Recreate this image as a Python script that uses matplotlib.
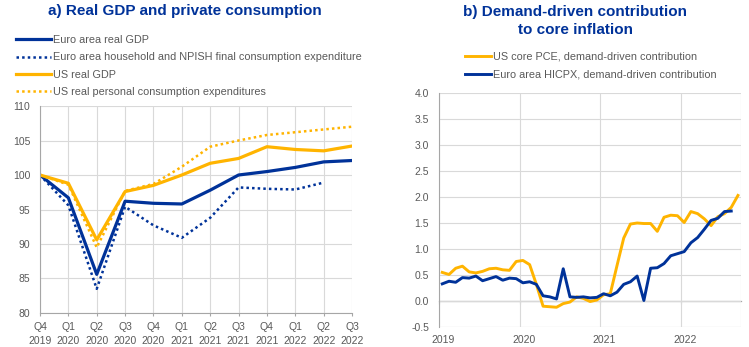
import matplotlib
matplotlib.use("Agg")
import matplotlib.pyplot as plt
import matplotlib.transforms as mtransforms
import numpy as np

plt.rcParams['font.family'] = ['Liberation Sans', 'DejaVu Sans']

BLUE = '#003299'
ORANGE = '#FFB400'
GREY_TXT = '#595959'
GRID = '#d9d9d9'
AXIS = '#a6a6a6'

# ---- panel a: quarterly indices, Q4 2019 = 100 ----
quarters = ['Q4\n2019', 'Q1\n2020', 'Q2\n2020', 'Q3\n2020', 'Q4\n2020', 'Q1\n2021',
            'Q2\n2021', 'Q3\n2021', 'Q4\n2021', 'Q1\n2022', 'Q2\n2022', 'Q3\n2022']
ea_gdp = [100.0, 96.7, 85.6, 96.2, 95.9, 95.8, 97.8, 100.0, 100.5, 101.1, 101.9, 102.1]
ea_cons = [100.0, 95.6, 83.5, 95.4, 92.7, 90.9, 93.8, 98.2, 98.0, 97.9, 98.9]
us_gdp = [100.0, 98.8, 90.6, 97.6, 98.5, 100.0, 101.7, 102.4, 104.1, 103.7, 103.5, 104.2]
us_cons = [100.0, 98.6, 89.5, 97.7, 98.7, 101.2, 104.1, 105.0, 105.8, 106.2, 106.6, 107.0]

# ---- panel b: monthly demand-driven contributions, Jan 2019 onwards ----
us_pce_demand = [0.55, 0.51, 0.63, 0.67, 0.56, 0.54, 0.57, 0.62, 0.63, 0.60, 0.59, 0.76,
                 0.78, 0.70, 0.32, -0.10, -0.11, -0.12, -0.05, -0.02, 0.08, 0.05, -0.01, 0.02,
                 0.12, 0.14, 0.68, 1.21, 1.48, 1.50, 1.49, 1.49, 1.34, 1.61, 1.65, 1.64,
                 1.51, 1.72, 1.68, 1.58, 1.45, 1.62, 1.68, 1.80, 2.03]
ea_hicpx_demand = [0.33, 0.38, 0.36, 0.45, 0.44, 0.48, 0.39, 0.43, 0.47, 0.40, 0.44, 0.43,
                   0.35, 0.37, 0.32, 0.10, 0.08, 0.04, 0.62, 0.08, 0.07, 0.08, 0.06, 0.07,
                   0.14, 0.10, 0.17, 0.32, 0.37, 0.48, 0.01, 0.63, 0.64, 0.72, 0.87, 0.91,
                   0.95, 1.12, 1.22, 1.38, 1.55, 1.59, 1.72, 1.73]
years = [2019, 2020, 2021, 2022]

fig = plt.figure(figsize=(7.49, 3.47), dpi=100)
dots = (0, (1, 1.25))

# ---------------- panel a ----------------
ax1 = fig.add_axes([0.0534, 0.098, 0.4166, 0.5965])
xq = np.arange(len(quarters))
l1, = ax1.plot(xq[:len(ea_gdp)], ea_gdp, color=BLUE, lw=2.3)
l2, = ax1.plot(xq[:len(ea_cons)], ea_cons, color=BLUE, lw=1.8, linestyle=dots)
l3, = ax1.plot(xq[:len(us_gdp)], us_gdp, color=ORANGE, lw=2.3)
l4, = ax1.plot(xq[:len(us_cons)], us_cons, color=ORANGE, lw=1.8, linestyle=dots)
ax1.set_xlim(0, len(quarters) - 1)
ax1.set_ylim(80, 110)
ax1.set_yticks(np.arange(80, 111, 5))
ax1.set_xticks(xq)
ax1.set_xticklabels(quarters)
ax1.grid(True, color=GRID, lw=0.8)
ax1.set_axisbelow(True)
for s in ['top', 'right']:
    ax1.spines[s].set_visible(False)
for s in ['left', 'bottom']:
    ax1.spines[s].set_color(AXIS)
ax1.tick_params(axis='y', length=0, labelsize=7.5, colors=GREY_TXT, pad=7)
ax1.tick_params(axis='x', length=2.5, width=0.8, color=AXIS, labelsize=7.5,
                labelcolor=GREY_TXT, pad=4)
for t in ax1.get_xticklabels():
    t.set_linespacing(1.45)

fig.text(0.247, 0.967, 'a) Real GDP and private consumption', ha='center', va='center',
         fontsize=11, fontweight='bold', color=BLUE)
fig.legend(handles=[l1, l2, l3, l4],
           labels=['Euro area real GDP',
                   'Euro area household and NPISH final consumption expenditure',
                   'US real GDP', 'US real personal consumption expenditures'],
           loc='upper left', bbox_to_anchor=(0.022, 0.899), frameon=False,
           fontsize=7.85, labelcolor=GREY_TXT, handlelength=3.15, handletextpad=0.22,
           labelspacing=0.67, borderaxespad=0, borderpad=0)

# ---------------- panel b ----------------
ax2 = fig.add_axes([0.586, 0.0576, 0.4032, 0.6744])
xm_us = [2019 + (i + 0.5) / 12 for i in range(len(us_pce_demand))]
xm_ea = [2019 + (i + 0.5) / 12 for i in range(len(ea_hicpx_demand))]
m1, = ax2.plot(xm_us, us_pce_demand, color=ORANGE, lw=2.1)
m2, = ax2.plot(xm_ea, ea_hicpx_demand, color=BLUE, lw=2.1)
x_end = 2022.745
ax2.set_xlim(2019, x_end)
ax2.set_ylim(-0.5, 4.0)
yt = np.arange(-0.5, 4.01, 0.5)
ax2.set_yticks(yt)
ax2.set_yticklabels([f'{v:.1f}' for v in yt])
ax2.set_xticks(years)
ax2.set_xticklabels([str(y) for y in years])
ax2.grid(True, color=GRID, lw=0.8)
ax2.set_axisbelow(True)
for s in ['top', 'right', 'bottom']:
    ax2.spines[s].set_visible(False)
ax2.spines['left'].set_color(AXIS)
ax2.axvline(x_end, color=GRID, lw=0.8, zorder=0)
ax2.axhline(-0.5, color=GRID, lw=0.8, zorder=0)
ax2.tick_params(axis='y', length=0, labelsize=7.5, colors=GREY_TXT, pad=7)
ax2.tick_params(axis='x', length=0, labelsize=7.5, colors=GREY_TXT, pad=6)
shift = mtransforms.ScaledTranslation(3 / 72, 0, fig.dpi_scale_trans)
for t in ax2.get_xticklabels():
    t.set_transform(t.get_transform() + shift)

# zero line carrying the year tick marks
zero_axis = ax2.secondary_xaxis(0.5 / 4.5)
zero_axis.set_xticks(years)
zero_axis.set_xticklabels([])
zero_axis.spines['bottom'].set_color(AXIS)
zero_axis.spines['bottom'].set_linewidth(0.9)
zero_axis.tick_params(axis='x', length=2.5, width=0.8, color=AXIS)

fig.text(0.768, 0.986, 'b) Demand-driven contribution\nto core inflation', ha='center',
         va='top', fontsize=11, fontweight='bold', color=BLUE, linespacing=1.35)
fig.legend(handles=[m1, m2],
           labels=['US core PCE, demand-driven contribution',
                   'Euro area HICPX, demand-driven contribution'],
           loc='upper left', bbox_to_anchor=(0.621, 0.852), frameon=False,
           fontsize=7.85, labelcolor=GREY_TXT, handlelength=2.35, handletextpad=0.2,
           labelspacing=0.75, borderaxespad=0, borderpad=0)

fig.savefig('out.png', dpi=100)
